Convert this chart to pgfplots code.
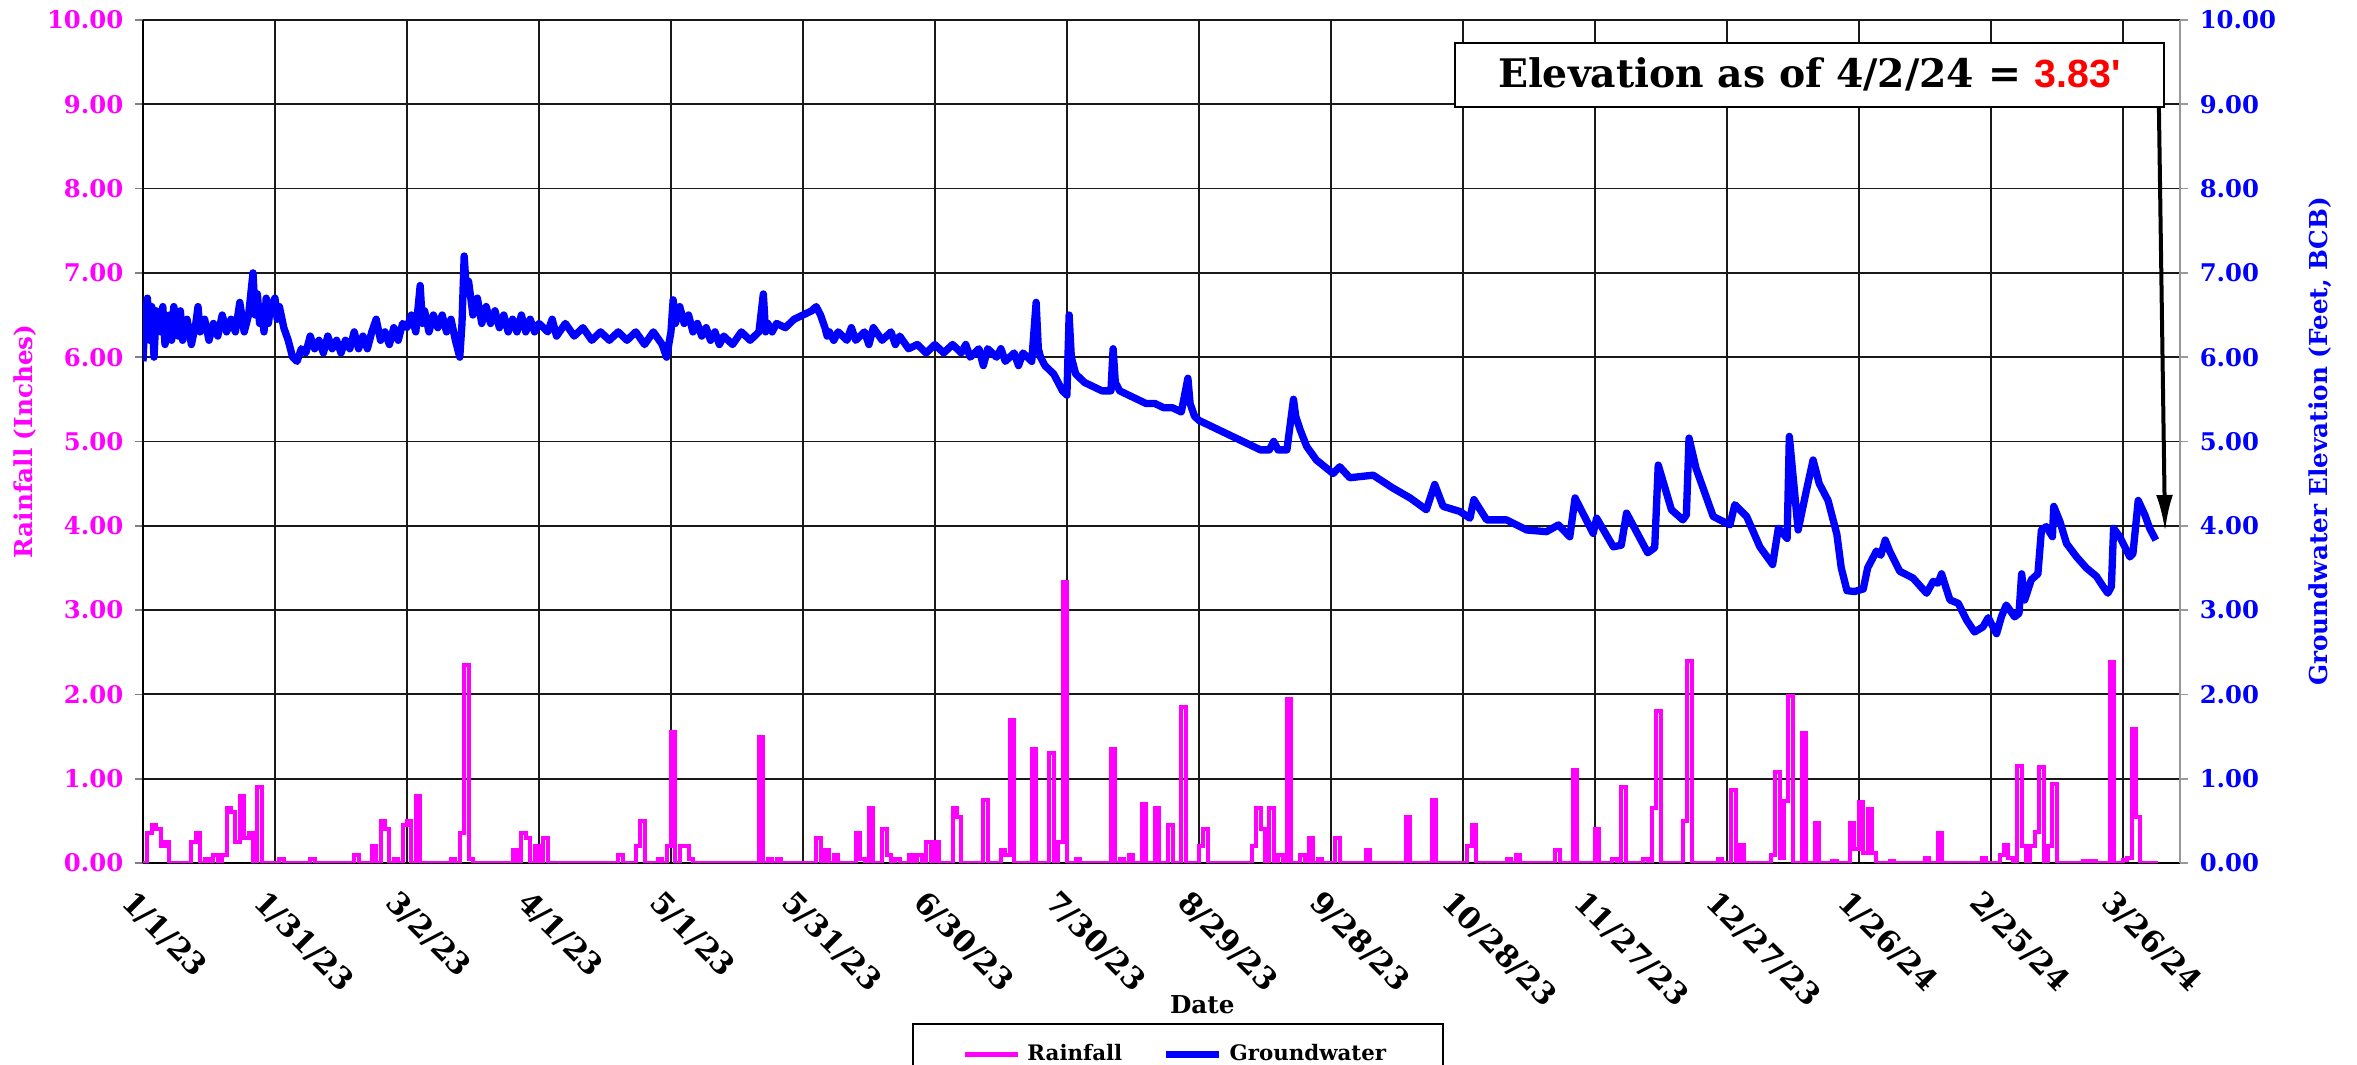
\documentclass[border=0pt]{standalone}
\usepackage{pgfplots}
\pgfplotsset{compat=1.18}
\usepackage{pgfplotstable}
\usepackage{fontspec}
\setmainfont{DejaVu Serif}
\newfontfamily\sansb{Liberation Sans}
\usetikzlibrary{arrows.meta}
\definecolor{rainc}{RGB}{255,0,255}
\definecolor{gwc}{RGB}{0,0,255}

% daily rainfall, day 0 = 1/1/23 (inches)
\pgfplotstableread{
day in
0 0
1 0.35
2 0.45
3 0.40
4 0.20
5 0.25
6 0
11 0.25
12 0.35
13 0
14 0.05
15 0
16 0.10
17 0
18 0.10
19 0.65
20 0.60
21 0.25
22 0.80
23 0.30
24 0.35
25 0
26 0.90
27 0
31 0.05
32 0
38 0.05
39 0
48 0.10
49 0
52 0.20
53 0
54 0.50
55 0.40
56 0
57 0.05
58 0
59 0.45
60 0.50
61 0
62 0.80
63 0
70 0.05
71 0
72 0.35
73 2.35
74 0.05
75 0
84 0.15
85 0
86 0.35
87 0.30
88 0
89 0.20
90 0
91 0.30
92 0
108 0.10
109 0
112 0.20
113 0.50
114 0
117 0.05
118 0
119 0.20
120 1.55
121 0
122 0.20
123 0.20
124 0.05
125 0
140 1.50
141 0
142 0.05
143 0
144 0.05
145 0
153 0.30
154 0
155 0.15
156 0
157 0.10
158 0
162 0.35
163 0.05
164 0
165 0.65
166 0
168 0.40
169 0.10
170 0
171 0.05
172 0
174 0.10
175 0
176 0.10
177 0
178 0.25
179 0
180 0.25
181 0
184 0.65
185 0.55
186 0
191 0.75
192 0
195 0.15
196 0.10
197 1.70
198 0
202 1.35
203 0
206 1.30
207 0
208 0.25
209 3.33
210 0
212 0.05
213 0
220 1.35
221 0
222 0.05
223 0
224 0.10
225 0
227 0.70
228 0
230 0.65
231 0
233 0.45
234 0
236 1.85
237 0
240 0.20
241 0.40
242 0
252 0.20
253 0.65
254 0.40
255 0
256 0.65
257 0
258 0.10
259 0
260 1.95
261 0
263 0.10
264 0
265 0.30
266 0
267 0.05
268 0
271 0.30
272 0
278 0.15
279 0
287 0.55
288 0
293 0.75
294 0
301 0.20
302 0.45
303 0
310 0.05
311 0
312 0.10
313 0
321 0.15
322 0
325 1.10
326 0
330 0.40
331 0
334 0.05
335 0
336 0.90
337 0
341 0.05
342 0
343 0.65
344 1.80
345 0
350 0.50
351 2.40
352 0
358 0.05
359 0
361 0.86
362 0
363 0.21
364 0
370 0.10
371 1.08
372 0.06
373 0.73
374 1.98
375 0
377 1.54
378 0
380 0.47
381 0
384 0.02
385 0
388 0.47
389 0.16
390 0.72
391 0.12
392 0.64
393 0.12
394 0
397 0.02
398 0
405 0.06
406 0
408 0.36
409 0
418 0.06
419 0
422 0.10
423 0.21
424 0.06
425 0
426 1.15
427 0.20
428 0
429 0.20
430 0.37
431 1.14
432 0
433 0.20
434 0.94
435 0
441 0.02
442 0
443 0.02
444 0
447 2.38
448 0
450 0.03
451 0.06
452 1.59
453 0.55
454 0
458 0
}\rain

% groundwater elevation (feet, BCB)
\pgfplotstableread{
day ft
0 5.95
0.5 6.55
1 6.7
1.5 6.2
2 6.6
2.5 6.0
3 6.55
4 6.3
4.5 6.6
5 6.15
6 6.5
6.5 6.2
7 6.6
8 6.25
8.5 6.55
9 6.2
10 6.45
11 6.15
12 6.4
12.5 6.6
13 6.3
14 6.45
15 6.2
16 6.4
17 6.25
18 6.5
19 6.3
20 6.45
21 6.3
22 6.65
23 6.3
24 6.5
25 7.0
25.5 6.5
26 6.75
26.5 6.4
27 6.6
27.5 6.3
28 6.7
28.5 6.4
29 6.6
30 6.7
30.5 6.45
31 6.6
32 6.35
33 6.2
34 6.0
35 5.95
36 6.1
37 6.05
38 6.25
39 6.1
40 6.2
41 6.05
42 6.25
43 6.1
44 6.2
45 6.05
46 6.2
47 6.1
48 6.3
49 6.1
50 6.25
51 6.1
52 6.3
53 6.45
54 6.2
55 6.3
56 6.15
57 6.35
58 6.2
59 6.4
60 6.35
61 6.5
62 6.3
63 6.85
63.5 6.4
64 6.55
65 6.3
66 6.5
67 6.35
68 6.5
69 6.3
70 6.45
71 6.2
72 6.0
72.5 6.4
73 7.2
73.5 6.8
74 6.9
75 6.5
76 6.7
77 6.4
78 6.6
79 6.4
80 6.55
81 6.35
82 6.5
83 6.3
84 6.45
85 6.3
86 6.5
87 6.3
88 6.45
89 6.3
90 6.4
92 6.3
93 6.45
94 6.25
96 6.4
98 6.25
100 6.35
102 6.2
104 6.3
106 6.2
108 6.3
110 6.2
112 6.3
114 6.15
116 6.3
118 6.15
119 6.0
120 6.3
120.5 6.68
121 6.4
122 6.6
123 6.4
124 6.5
125 6.3
126 6.4
127 6.25
128 6.35
129 6.2
130 6.3
131 6.15
132 6.25
134 6.15
136 6.3
138 6.2
140 6.3
141 6.75
141.5 6.3
142 6.4
143 6.3
144 6.4
146 6.35
148 6.45
150 6.5
152 6.55
153 6.6
154 6.5
155 6.35
155.5 6.25
156 6.3
157 6.2
158 6.3
160 6.2
161 6.35
162 6.2
164 6.3
165 6.15
166 6.35
168 6.2
170 6.3
171 6.15
172 6.25
174 6.1
176 6.15
178 6.05
180 6.15
182 6.05
184 6.15
186 6.05
187 6.15
188 6.0
190 6.1
191 5.9
192 6.1
194 6.0
195 6.1
196 5.95
198 6.05
199 5.9
200 6.05
202 5.95
203 6.65
203.5 6.1
204 6.0
205 5.9
206 5.85
207 5.8
208 5.7
209 5.6
210 5.55
210.5 6.5
211 6.0
212 5.8
213 5.75
214 5.7
216 5.65
218 5.6
220 5.6
220.5 6.1
221 5.7
222 5.6
224 5.55
226 5.5
228 5.45
230 5.45
232 5.4
234 5.4
236 5.35
237.5 5.75
238 5.45
239 5.3
240 5.25
242 5.2
244 5.15
246 5.1
248 5.05
250 5.0
252 4.95
254 4.9
256 4.9
257 5.0
258 4.9
260 4.9
261.5 5.5
262 5.3
263 5.14
264.5 4.94
266.7 4.78
270.5 4.62
272 4.70
274.3 4.57
279.6 4.60
284 4.45
288 4.33
291.7 4.19
293.6 4.49
295.5 4.23
299.3 4.17
301.6 4.09
302.5 4.31
305.4 4.07
309.9 4.07
314.5 3.95
319 3.93
321.7 4.01
324.3 3.87
325.5 4.33
329.6 3.91
330.4 4.09
334.2 3.75
336 3.77
337.2 4.15
342 3.68
343.6 3.74
344.4 4.72
347.4 4.19
350 4.07
350.8 4.13
351.4 5.04
353 4.68
356.9 4.11
360.7 4.01
361.8 4.25
364.5 4.11
367.5 3.75
370.4 3.54
371.7 3.97
373.7 3.85
374.2 5.06
376.2 3.95
378 4.4
379.6 4.78
381 4.5
383 4.3
385 3.9
386 3.5
387.3 3.23
389 3.22
391 3.25
392 3.5
394 3.7
395 3.65
396 3.83
397 3.7
399.3 3.46
402.3 3.38
405.4 3.20
406.9 3.34
408 3.32
408.8 3.43
410.7 3.12
412.6 3.08
414.5 2.88
416.3 2.74
418.2 2.80
419.4 2.91
421.3 2.72
422.4 2.92
423.5 3.06
425.4 2.92
426.4 2.96
427 3.43
427.7 3.12
429.2 3.36
430.7 3.43
431.5 3.95
432.6 3.99
434 3.87
434.3 4.23
435.7 4.05
437.2 3.79
439.5 3.63
441.7 3.50
444 3.40
445.5 3.28
446.6 3.20
447.4 3.28
447.9 3.97
449.3 3.87
451.6 3.63
452.3 3.67
453.5 4.30
455 4.13
456.1 3.97
457.5 3.83
}\gw

\begin{document}
\begin{tikzpicture}
\pgfplotsset{
  every axis/.append style={
    scale only axis, width=611.1pt, height=252.9pt,
    xmin=0, xmax=463, ymin=0, ymax=10,
    ytick={0,1,...,10},
    tick align=outside, major tick length=2.4pt,
    /pgf/number format/fixed,
    /pgf/number format/fixed zerofill,
    /pgf/number format/precision=2,
    /pgf/number format/assume math mode=true,
    yticklabel style={font=\bfseries\fontsize{7.3}{8}\selectfont},
  },
}
\begin{axis}[
  axis y line*=left, axis x line*=bottom,
  axis line style={black, line width=0.5pt},
  xtick={0,30,...,450},
  xticklabels={1/1/23,1/31/23,3/2/23,4/1/23,5/1/23,5/31/23,6/30/23,7/30/23,8/29/23,9/28/23,10/28/23,11/27/23,12/27/23,1/26/24,2/25/24,3/26/24},
  x tick label style={rotate=-45, anchor=north west, font=\bfseries\fontsize{9}{10}\selectfont, inner sep=1pt, yshift=-4pt, xshift=1pt},
  x tick style={draw=none},
  y tick style={black!50, line width=0.5pt},
  yticklabel style={text=rainc},
  grid=major,
  major grid style={black!90, line width=0.55pt},
  ylabel={Rainfall (Inches)},
  ylabel style={at={(axis description cs:-0.058,0.5)}, anchor=center, text=rainc, font=\bfseries\fontsize{7.4}{8}\selectfont},
  xlabel={Date},
  xlabel style={at={(axis description cs:0.52,-0.168)}, anchor=center, font=\bfseries\fontsize{7.4}{8}\selectfont},
]
\addplot[const plot, rainc, line width=1.2pt] table[x=day, y=in] {\rain};
\coordinate (bbsw) at (rel axis cs:-0.0702,-0.2396);
\coordinate (bbne) at (rel axis cs:1.0869,1.0237);
\end{axis}
\begin{axis}[
  axis y line*=right, axis x line=none,
  axis line style={black!40, line width=0.8pt},
  y tick style={black!40, line width=0.5pt},
  yticklabel style={text=gwc},
  ylabel={Groundwater Elevation (Feet, BCB)},
  ylabel style={at={(axis description cs:1.0687,0.5)}, anchor=center, text=gwc, font=\bfseries\fontsize{7.4}{8}\selectfont},
  legend style={at={(axis description cs:0.508,-0.19)}, anchor=north, legend columns=2, draw=black, line width=0.5pt, font=\bfseries\fontsize{6.4}{7}\selectfont, inner xsep=15pt, inner ysep=4pt, /tikz/every even column/.append style={column sep=10pt}},
  legend image code/.code={\draw[#1] (0pt,0pt) -- (16pt,0pt);},
]
\addlegendimage{rainc, line width=1.4pt}
\addlegendentry{Rainfall}
\addplot[gwc, line width=2.2pt, line join=round] table[x=day, y=ft] {\gw};
\addlegendentry{Groundwater}
\node[draw=black, line width=0.6pt, fill=white, minimum width=212.7pt, minimum height=19.2pt, inner sep=0pt,
  font=\bfseries\fontsize{11.8}{13}\selectfont] at (axis cs:378.75,9.35)
  {Elevation as of 4/2/24 = {\sansb\color{red}3.83\textquotesingle}};
\draw[black, line width=1.2pt, -{Latex[length=11pt,width=5pt]}] (axis cs:458.2,8.97) -- (axis cs:459.6,3.93);
\end{axis}
\pgfresetboundingbox
\path[use as bounding box] (bbsw) rectangle (bbne);
\end{tikzpicture}
\end{document}
